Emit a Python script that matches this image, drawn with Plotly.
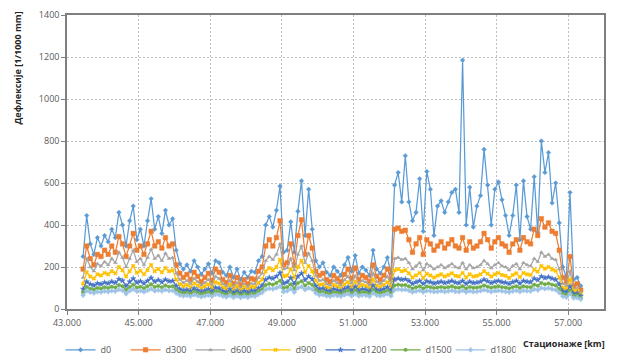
import plotly.graph_objects as go

stations = [
    43.45, 43.55, 43.65, 43.75, 43.85, 43.95, 44.05, 44.15, 44.25, 44.35,
    44.45, 44.55, 44.65, 44.75, 44.85, 44.95, 45.05, 45.15, 45.25, 45.35,
    45.45, 45.55, 45.65, 45.75, 45.85, 45.95, 46.05, 46.15, 46.25, 46.35,
    46.45, 46.55, 46.65, 46.75, 46.85, 46.95, 47.05, 47.15, 47.25, 47.35,
    47.45, 47.55, 47.65, 47.75, 47.85, 47.95, 48.05, 48.15, 48.25, 48.35,
    48.45, 48.55, 48.65, 48.75, 48.85, 48.95, 49.05, 49.15, 49.25, 49.35,
    49.45, 49.55, 49.65, 49.75, 49.85, 49.95, 50.05, 50.15, 50.25, 50.35,
    50.45, 50.55, 50.65, 50.75, 50.85, 50.95, 51.05, 51.15, 51.25, 51.35,
    51.45, 51.55, 51.65, 51.75, 51.85, 51.95, 52.05, 52.15, 52.25, 52.35,
    52.45, 52.55, 52.65, 52.75, 52.85, 52.95, 53.05, 53.15, 53.25, 53.35,
    53.45, 53.55, 53.65, 53.75, 53.85, 53.95, 54.05, 54.15, 54.25, 54.35,
    54.45, 54.55, 54.65, 54.75, 54.85, 54.95, 55.05, 55.15, 55.25, 55.35,
    55.45, 55.55, 55.65, 55.75, 55.85, 55.95, 56.05, 56.15, 56.25, 56.35,
    56.45, 56.55, 56.65, 56.75, 56.85, 56.95, 57.05, 57.15, 57.25, 57.35,
]

d0 = [
    250, 445, 310, 260, 340, 300, 350, 320, 380, 340, 460, 400, 300, 420, 490, 330, 380, 300, 420, 525,
    380, 440, 360, 470, 400, 430,
    280, 215, 190, 210, 180, 230, 200, 165, 190, 215, 170, 230, 220, 175, 160, 200, 150, 190, 140, 175,
    150, 180, 175, 230,
    250, 400, 440, 390, 470, 585, 270, 280, 415, 270, 465, 610, 350, 570, 380, 230,
    200, 220, 175, 160, 200, 180, 160, 210, 245, 180, 255, 170, 200, 185, 160, 280, 190, 170, 200, 245,
    170, 590,
    650, 510, 730, 510, 420, 460, 620, 370, 655, 570, 350, 490, 515, 460, 510, 555, 570, 460, 1185, 400,
    580, 390, 490, 540, 760, 590, 400, 570, 605, 520, 445, 350, 445, 590, 330, 610, 440, 380, 630, 365,
    800, 650, 745, 505, 600, 410, 200,
    150, 555, 140, 150, 110,
]

d300 = [
    190, 300, 240, 210, 260, 250, 280, 260, 300, 270, 345, 310, 250, 300, 360, 280, 300, 260, 310, 370,
    300, 320, 290, 340, 300, 310,
    210, 170, 150, 165, 140, 175, 155, 130, 150, 170, 135, 190, 175, 140, 125, 160, 120, 150, 115, 140,
    120, 145, 140, 180,
    200, 300, 330, 300, 340, 420, 210, 220, 310, 210, 350, 425, 260, 350, 290, 180,
    160, 170, 140, 130, 160, 145, 130, 165, 190, 145, 195, 140, 160, 150, 130, 210, 155, 140, 160, 190,
    140, 380,
    385, 370, 375, 330, 270, 310, 340, 260, 330, 310, 280, 300, 320, 290, 310, 330, 300, 290, 340, 280,
    320, 290, 300, 320, 360, 330, 290, 320, 340, 310, 300, 270, 310, 330, 280, 340, 320, 310, 380, 350,
    430, 390, 410, 370, 360, 280, 150,
    130, 250, 110, 120, 90,
]

d600 = [
    150, 240, 200, 180, 215, 205, 225, 210, 240, 220, 270, 245, 200, 240, 280, 225, 240, 210, 245, 285,
    240, 255, 230, 265, 240, 245,
    170, 140, 125, 135, 120, 145, 130, 112, 125, 140, 115, 155, 145, 120, 108, 135, 105, 125, 100, 120,
    105, 122, 120, 150,
    170, 230, 250, 235, 260, 310, 190, 195, 240, 185, 260, 300, 220, 265, 230, 160,
    135, 140, 120, 112, 135, 125, 112, 138, 155, 122, 158, 120, 135, 128, 112, 170, 130, 120, 135, 155,
    120, 240,
    245, 235, 240, 220, 190, 205, 220, 185, 215, 205, 190, 200, 210, 195, 205, 215, 200, 195, 220, 190,
    210, 195, 200, 210, 230, 215, 195, 210, 220, 205, 200, 185, 205, 215, 190, 220, 210, 205, 240, 225,
    270, 250, 260, 240, 235, 190, 120,
    110, 180, 95, 100, 80,
]

d900 = [
    120, 175, 155, 145, 165, 160, 172, 165, 180, 170, 200, 185, 155, 180, 205, 172, 182, 165, 185, 210,
    180, 190, 175, 195, 180, 185,
    140, 118, 108, 115, 104, 122, 112, 98, 108, 118, 100, 128, 122, 104, 95, 115, 92, 108, 90, 104,
    92, 106, 104, 125,
    140, 180, 195, 185, 200, 235, 155, 160, 190, 150, 200, 230, 175, 205, 180, 135,
    115, 118, 104, 98, 115, 108, 98, 118, 128, 105, 130, 104, 115, 110, 98, 140, 112, 104, 115, 128,
    104, 185,
    190, 180, 185, 170, 150, 160, 172, 148, 168, 160, 150, 158, 165, 155, 162, 170, 158, 155, 172, 150,
    165, 155, 158, 165, 180, 168, 155, 165, 172, 162, 158, 148, 162, 170, 152, 172, 165, 162, 188, 178,
    205, 192, 200, 188, 182, 150, 100,
    95, 140, 85, 88, 72,
]

d1200 = [
    95, 130, 118, 112, 122, 118, 126, 122, 130, 125, 142, 135, 110, 130, 145, 126, 132, 122, 134, 148,
    130, 138, 128, 140, 132, 134,
    110, 95, 88, 92, 85, 98, 90, 82, 88, 95, 84, 102, 98, 86, 80, 94, 78, 88, 76, 86,
    78, 88, 86, 100,
    112, 140, 150, 145, 155, 172, 122, 128, 148, 120, 155, 170, 138, 155, 142, 110,
    95, 98, 88, 84, 95, 90, 84, 96, 104, 88, 106, 88, 95, 92, 84, 112, 92, 88, 95, 104,
    88, 140,
    145, 140, 142, 134, 120, 128, 134, 120, 132, 128, 122, 126, 130, 124, 128, 134, 126, 124, 134, 120,
    130, 124, 126, 130, 140, 132, 124, 130, 134, 128, 126, 120, 128, 134, 122, 134, 130, 128, 145, 138,
    155, 148, 152, 145, 140, 118, 85,
    80, 108, 72, 75, 62,
]

d1500 = [
    78, 105, 96, 92, 100, 97, 103, 100, 106, 102, 114, 108, 90, 105, 116, 102, 106, 99, 108, 118,
    105, 110, 103, 112, 106, 108,
    92, 80, 75, 78, 72, 82, 76, 70, 75, 80, 72, 85, 82, 73, 68, 79, 66, 74, 65, 72,
    66, 74, 72, 84,
    94, 114, 120, 116, 124, 135, 100, 104, 118, 98, 124, 132, 112, 124, 115, 92,
    80, 82, 75, 72, 80, 77, 72, 81, 87, 75, 88, 75, 80, 78, 72, 92, 78, 75, 80, 87,
    75, 112,
    116, 113, 114, 108, 98, 104, 108, 98, 107, 104, 100, 102, 105, 101, 104, 108, 102, 101, 108, 98,
    105, 101, 102, 105, 112, 106, 101, 105, 108, 104, 102, 98, 104, 108, 100, 108, 105, 104, 116, 111,
    124, 118, 122, 116, 112, 96, 72,
    68, 88, 62, 64, 54,
]

d1800 = [
    65, 86, 80, 76, 82, 80, 85, 82, 87, 84, 93, 88, 72, 86, 95, 84, 87, 81, 88, 96,
    86, 90, 85, 92, 87, 88,
    76, 66, 62, 65, 60, 68, 63, 58, 62, 66, 60, 70, 68, 61, 57, 65, 55, 62, 54, 60,
    55, 62, 60, 70,
    78, 93, 98, 95, 100, 108, 82, 86, 96, 80, 100, 106, 92, 100, 94, 76,
    66, 68, 62, 60, 66, 64, 60, 67, 72, 62, 73, 62, 66, 65, 60, 76, 65, 62, 66, 72,
    62, 90,
    94, 92, 93, 88, 80, 85, 88, 80, 87, 85, 82, 83, 86, 82, 85, 88, 83, 82, 88, 80,
    86, 82, 83, 86, 91, 87, 82, 86, 88, 85, 83, 80, 85, 88, 82, 88, 86, 85, 94, 90,
    100, 96, 99, 94, 91, 78, 60,
    56, 72, 52, 54, 46,
]

series_names = ["d0", "d300", "d600", "d900", "d1200", "d1500", "d1800"]
series_values = [d0, d300, d600, d900, d1200, d1500, d1800]
series_colors = ["#5B9BD5", "#ED7D31", "#A5A5A5", "#FFC000", "#4472C4", "#70AD47", "#9DC3E6"]
series_symbols = ["diamond", "square", "triangle-up", "x", "star", "circle", "cross"]
series_msize = [3.5, 4.5, 3.5, 3.5, 4, 3.5, 3.5]

x_tick_vals = [43, 45, 47, 49, 51, 53, 55, 57]
x_tick_text = ["43.000", "45.000", "47.000", "49.000", "51.000", "53.000", "55.000", "57.000"]

FONT = "Open Sans"
TICK_COLOR = "#595959"

fig = go.Figure()
for name, vals, col, sym, ms in zip(series_names, series_values, series_colors,
                                    series_symbols, series_msize):
    fig.add_trace(go.Scatter(
        x=stations, y=vals, name=name, mode="lines+markers",
        line=dict(color=col, width=1.25),
        marker=dict(symbol=sym, size=ms, color=col, line=dict(width=0.5, color=col)),
    ))

# the page body adds an 8px offset, so the margins are shifted to compensate
fig.update_layout(
    width=617, height=356,
    margin=dict(l=59, r=21, t=7, b=55, autoexpand=False),
    paper_bgcolor="white", plot_bgcolor="white",
    font=dict(family=FONT, size=9, color=TICK_COLOR),
    showlegend=True,
    legend=dict(orientation="h", x=-0.012, xanchor="left", y=-0.139, yanchor="middle",
                font=dict(size=9, color=TICK_COLOR), itemwidth=30,
                entrywidth=20, entrywidthmode="pixels",
                bgcolor="rgba(0,0,0,0)", tracegroupgap=0),
    xaxis=dict(range=[43, 58], tickvals=x_tick_vals, ticktext=x_tick_text,
               showgrid=True, gridcolor="#BFBFBF", griddash="2px,2px", gridwidth=1,
               showline=True, linecolor="#7F7F7F", linewidth=1.5, mirror=True,
               ticks="outside", ticklen=4, tickcolor="#7F7F7F",
               zeroline=False, tickfont=dict(size=9, color=TICK_COLOR)),
    yaxis=dict(range=[0, 1400], dtick=200, tick0=0,
               showgrid=True, gridcolor="#BFBFBF", griddash="2px,2px", gridwidth=1,
               showline=True, linecolor="#7F7F7F", linewidth=1.5, mirror=True,
               ticks="outside", ticklen=4, tickcolor="#7F7F7F",
               zeroline=False, tickfont=dict(size=9, color=TICK_COLOR)),
    annotations=[
        dict(text="<b>Стационаже [km]</b>", xref="paper", yref="paper",
             x=1.006, y=-0.116, xanchor="right", yanchor="middle", showarrow=False,
             font=dict(family=FONT, size=9, color="#262626")),
        dict(text="<b>Дефлексије [1/1000 mm]</b>", xref="paper", yref="paper",
             x=-0.092, y=0.82, xanchor="center", yanchor="middle", showarrow=False,
             textangle=-90, font=dict(family=FONT, size=9, color="#262626")),
    ],
)

fig.write_html("out.html")
